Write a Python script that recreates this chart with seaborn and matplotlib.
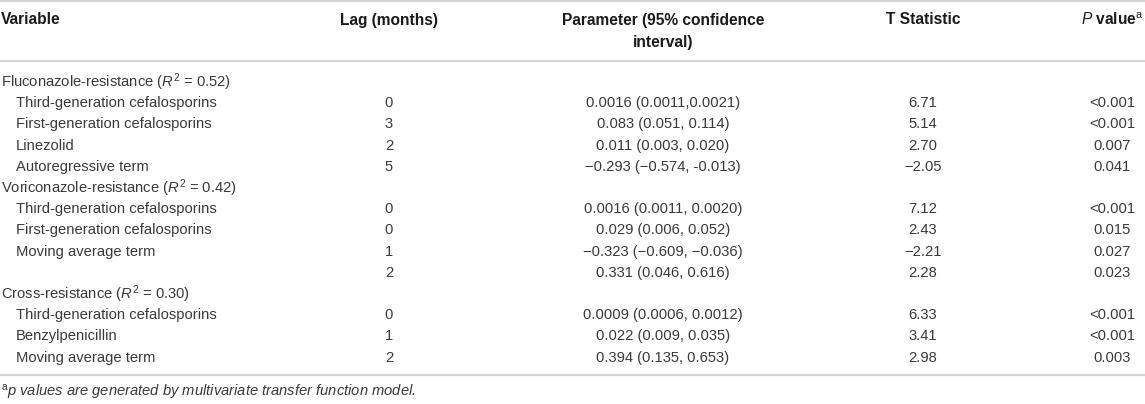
import matplotlib
matplotlib.use("Agg")
import matplotlib.pyplot as plt
import seaborn as sns

# table content
headers = ["Variable", "Lag (months)", "Parameter (95% confidence",
           "T Statistic", r"$\it{P}$ value$^{\rm a}$"]
headers_2nd = ["", "", "interval)", "", ""]

variables = [
    "Fluconazole-resistance ($R^2$ = 0.52)",
    "Third-generation cefalosporins",
    "First-generation cefalosporins",
    "Linezolid",
    "Autoregressive term",
    "Voriconazole-resistance ($R^2$ = 0.42)",
    "Third-generation cefalosporins",
    "First-generation cefalosporins",
    "Moving average term",
    "",
    "Cross-resistance ($R^2$ = 0.30)",
    "Third-generation cefalosporins",
    "Benzylpenicillin",
    "Moving average term",
]
is_group = [True, False, False, False, False, True, False, False, False, False,
            True, False, False, False]
lags = ["", "0", "3", "2", "5", "", "0", "0", "1", "2", "", "0", "1", "2"]
params = ["", "0.0016 (0.0011,0.0021)", "0.083 (0.051, 0.114)", "0.011 (0.003, 0.020)",
          "\u22120.293 (\u22120.574, -0.013)", "", "0.0016 (0.0011, 0.0020)",
          "0.029 (0.006, 0.052)", "\u22120.323 (\u22120.609, \u22120.036)",
          "0.331 (0.046, 0.616)", "", "0.0009 (0.0006, 0.0012)",
          "0.022 (0.009, 0.035)", "0.394 (0.135, 0.653)"]
tstats = ["", "6.71", "5.14", "2.70", "\u22122.05", "", "7.12", "2.43", "\u22122.21",
          "2.28", "", "6.33", "3.41", "2.98"]
pvals = ["", "<0.001", "<0.001", "0.007", "0.041", "", "<0.001", "0.015", "0.027",
         "0.023", "", "<0.001", "<0.001", "0.003"]
footnote = r"$^{\rm a}$p values are generated by multivariate transfer function model."

sns.set_theme(style="white")
plt.rcParams["font.family"] = ["Liberation Sans", "DejaVu Sans"]
plt.rcParams["mathtext.fontset"] = "custom"
plt.rcParams["mathtext.rm"] = "Liberation Sans"
plt.rcParams["mathtext.it"] = "Liberation Sans:italic"
plt.rcParams["mathtext.bf"] = "Liberation Sans:bold"

W, H = 1145, 404
fig = plt.figure(figsize=(W / 100, H / 100), dpi=100)
ax = fig.add_axes([0, 0, 1, 1])
ax.set_xlim(0, W)
ax.set_ylim(H, 0)
ax.axis("off")

body = "#3a3a3a"
head = "#1a1a1a"
line_c = "#d4d4d4"
fs = 10.6
fs_head = 11.2

col_x = [1, 389, 663, 923, 1112]

# rules
for y in [1, 61, 375]:
    ax.plot([0, W], [y, y], color=line_c, lw=1.6, solid_capstyle="butt")

# header
for i in range(len(headers)):
    ha = "left" if i == 0 else "center"
    ax.text(col_x[i], 20, headers[i], ha=ha, va="center", fontsize=fs_head,
            fontweight="bold", color=head)
    if headers_2nd[i]:
        ax.text(col_x[i], 42, headers_2nd[i], ha=ha, va="center", fontsize=fs_head,
                fontweight="bold", color=head)

# body rows
row0, step = 82, 21.2
for r in range(len(variables)):
    y = row0 + step * r
    x0 = col_x[0] if is_group[r] else col_x[0] + 15
    ax.text(x0, y, variables[r], ha="left", va="center", fontsize=fs, color=body)
    ax.text(col_x[1], y, lags[r], ha="center", va="center", fontsize=fs, color=body)
    ax.text(col_x[2], y, params[r], ha="center", va="center", fontsize=fs, color=body)
    ax.text(col_x[3], y, tstats[r], ha="center", va="center", fontsize=fs, color=body)
    ax.text(col_x[4], y, pvals[r], ha="center", va="center", fontsize=fs, color=body)

ax.text(col_x[0], 393, footnote, ha="left", va="center", fontsize=fs,
        style="italic", color=body)

fig.savefig("out.png", dpi=100)
